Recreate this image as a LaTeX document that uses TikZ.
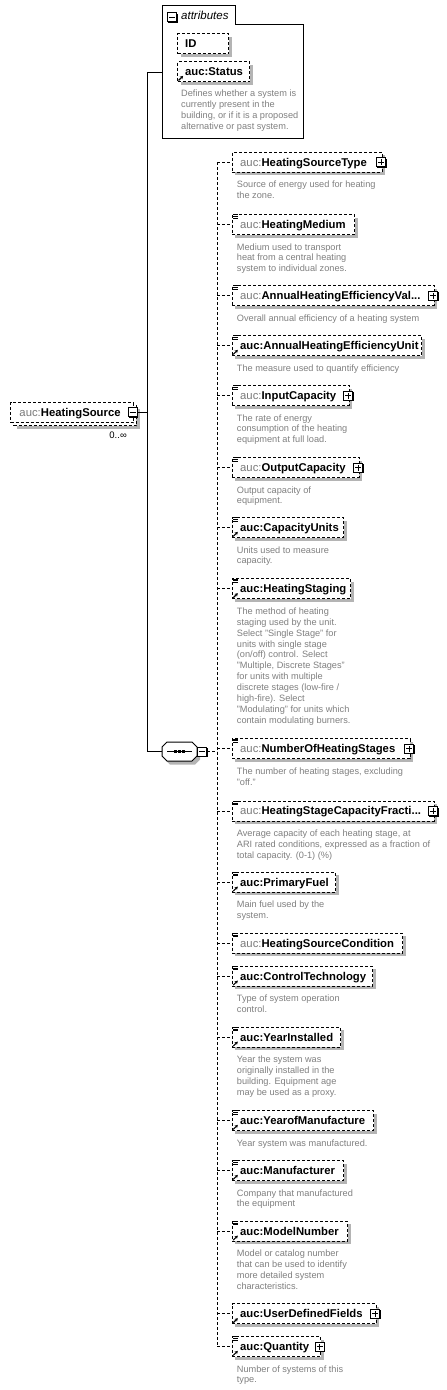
\documentclass[tikz,border=0pt]{standalone}
\usepackage{fontspec}
\setmainfont{Liberation Sans}
\usetikzlibrary{calc,arrows.meta}
\definecolor{pregray}{HTML}{7A7A7A}
\definecolor{descgray}{HTML}{808080}
\definecolor{shadowgray}{HTML}{B4B4B4}
\tikzset{
  dashedbox/.style={draw=black, line width=1pt, dash pattern=on 3pt off 2pt, fill=white},
  elbox/.style={dashedbox, anchor=north west, inner sep=0pt, minimum height=20pt},
  lbl/.style={anchor=base west, inner sep=0pt, font=\fontsize{11.3}{13}\selectfont},
  desc/.style={anchor=base west, inner sep=0pt, text=descgray, font=\fontsize{9.2}{10.9}\selectfont},
  iconbox/.style={draw=black, line width=1pt, fill=white, minimum size=9pt, inner sep=0pt},
  plusbox/.style={iconbox, path picture={\draw[line width=1pt]
     ([xshift=-3pt]path picture bounding box.center) -- ([xshift=3pt]path picture bounding box.center)
     ([yshift=-3pt]path picture bounding box.center) -- ([yshift=3pt]path picture bounding box.center);}},
  minusbox/.style={iconbox, path picture={\draw[line width=1pt]
     ([xshift=-3pt]path picture bounding box.center) -- ([xshift=3pt]path picture bounding box.center);}},
  conn/.style={line width=1pt, dash pattern=on 3pt off 2pt},
  mainline/.style={line width=1pt},
  refarrow/.style={line width=1.1pt, -{Stealth[length=3pt,width=3.5pt]}},
  eqline/.style={line width=0.8pt},
  shd/.style={fill=shadowgray},
}
\newcommand\loc[1]{{\color{pregray}auc:}\textbf{#1}}
\newcommand\rf[1]{\textbf{auc:#1}}
% element box: name, top, right, label
\newcommand\el[4]{\fill[shd] (235.2,#2+3.5) rectangle (#3+3.5,#2+23.5);
  \node[elbox, minimum width={(#3)-231.7}] (#1) at (231.7,#2) {};
  \node[lbl] (#1l) at ($(#1.north west)+(8.3,14.3)$) {#4};}
\newcommand\eqi[1]{\draw[eqline] ($(#1.north west)+(1.6,0.8)$) -- +(4.2,0)
  ($(#1.north west)+(1.6,2.4)$) -- +(4.2,0) ($(#1.north west)+(1.6,4)$) -- +(4.2,0);}
\newcommand\rfa[1]{\draw[refarrow] ($(#1.south west)+(1.6,-1.6)$) -- +(4.5,-4.5);}
\newcommand\pl[1]{\fill ($(#1.east)+(-5.2,-3.5)$) rectangle ($(#1.east)+(4.2,5.5)$);
  \node[plusbox] (#1p) at ($(#1.east)+(-1.5,0)$) {};}
\newcommand\mi[3]{\fill ($(#2,#3)+(-3.7,-3.5)$) rectangle ($(#2,#3)+(5.7,5.5)$);
  \node[minusbox] (#1) at (#2,#3) {};}
\newcommand\ds[2]{\node[desc] (#1d) at ($(#1.south west)+(5,15)$) {\begin{tabular}[t]{@{}l@{}}#2\end{tabular}};}
\begin{document}
\begin{tikzpicture}[x=1pt,y=-1pt]
\fill[white] (0,0) rectangle (447,1390);
\useasboundingbox (0,0) rectangle (447,1390);

% ---------- coordinates for connectors
\coordinate (attrW) at (162,72);
\coordinate (mtop) at (147,72);
\coordinate (mbot) at (147,751.5);
\coordinate (seqW) at (162,751.5);
\coordinate (vx) at (217,0);

% ---------- attributes box
\draw[mainline, fill=white] (162,138) -- (162,5) -- (235,5) -- (235,24) -- (303,24) -- (303,138) -- cycle;
\mi{am}{172}{17}
\node[anchor=base west, inner sep=0pt, font=\fontsize{11.5}{13}\selectfont\itshape] (atl) at (181,19.5) {attributes};
\fill[shd] (180.5,36.5) rectangle (231.5,56.5);
\node[elbox, minimum width=51] (id) at (177,33) {};
\node[lbl] (idl) at ($(id.north west)+(8,14.3)$) {\textbf{ID}};
\fill[shd] (180.5,64.5) rectangle (252.5,84.5);
\node[elbox, minimum width=72] (st) at (177,61) {};
\rfa{st}
\node[lbl] (stl) at ($(st.north west)+(8,14.3)$) {\rf{Status}};
\node[desc] (std) at (181,96.5) {\begin{tabular}[t]{@{}l@{}}Defines whether a system is\\currently present in the\\building, or if it is a proposed\\alternative or past system.\end{tabular}};

% ---------- HeatingSource
\fill[shd] (17,409) rectangle (139.5,428.5);
\node[elbox, minimum width=122.7] (hsb) at (13,405.3) {};
\node[elbox, minimum width=122.7] (hs) at (10,402.3) {};
\node[lbl] (hsl) at (19.3,416) {\loc{HeatingSource}};
\mi{hsm}{132.5}{412}
\node[anchor=base east, inner sep=0pt, font=\fontsize{9.5}{11}\selectfont] (hsocc) at (127,438.3) {0..∞};

% ---------- main connector
\draw[mainline] (attrW) -- (mtop) -- (mbot) -- (seqW);
\draw[mainline] (hsm.east) -- (hsm.east -| mtop);

% ---------- sequence compositor
\fill[shd, shift={(3,3.5)}] (167,742) -- (192,742) -- (197,747) -- (197,756) -- (192,761) -- (167,761) -- (162,756) -- (162,747) -- cycle;
\draw[mainline, fill=white] (167,742) -- (192,742) -- (197,747) -- (197,756) -- (192,761) -- (167,761) -- (162,756) -- (162,747) -- cycle;
\draw[mainline] (167,751.5) -- (192,751.5);
\fill (174.2,750.2) rectangle +(2.6,2.6);
\fill (178.2,750.2) rectangle +(2.6,2.6);
\fill (182.2,750.2) rectangle +(2.6,2.6);
\mi{sm}{202}{751.5}

% ---------- children
\el{c1}{151.7}{381.5}{\loc{HeatingSourceType}} \pl{c1}
\ds{c1}{Source of energy used for heating\\the zone.}
\el{c2}{214}{354}{\loc{HeatingMedium}} \eqi{c2}
\ds{c2}{Medium used to transport\\heat from a central heating\\system to individual zones.}
\el{c3}{285}{433.5}{\loc{AnnualHeatingEfficiencyVal...}} \eqi{c3} \pl{c3}
\ds{c3}{Overall annual efficiency of a heating system}
\el{c4}{335}{421}{\rf{AnnualHeatingEfficiencyUnit}} \eqi{c4} \rfa{c4}
\ds{c4}{The measure used to quantify efficiency}
\el{c5}{385}{348.5}{\loc{InputCapacity}} \eqi{c5} \pl{c5}
\ds{c5}{The rate of energy\\consumption of the heating\\equipment at full load.}
\el{c6}{457}{358.5}{\loc{OutputCapacity}} \eqi{c6} \pl{c6}
\ds{c6}{Output capacity of\\equipment.}
\el{c7}{517}{343}{\rf{CapacityUnits}} \eqi{c7} \rfa{c7}
\ds{c7}{Units used to measure\\capacity.}
\el{c8}{578.3}{350}{\rf{HeatingStaging}} \eqi{c8} \rfa{c8}
\ds{c8}{The method of heating\\staging used by the unit.\\Select "Single Stage" for\\units with single stage\\(on/off) control. Select\\"Multiple, Discrete Stages"\\for units with multiple\\discrete stages (low-fire /\\high-fire). Select\\"Modulating" for units which\\contain modulating burners.}
\el{c9}{738.3}{409.5}{\loc{NumberOfHeatingStages}} \eqi{c9} \pl{c9}
\ds{c9}{The number of heating stages, excluding\\"off."}
\el{c10}{800.5}{433.5}{\loc{HeatingStageCapacityFracti...}} \eqi{c10} \pl{c10}
\ds{c10}{Average capacity of each heating stage, at\\ARI rated conditions, expressed as a fraction of\\total capacity. (0-1) (\%)}
\el{c11}{871.7}{335}{\rf{PrimaryFuel}} \eqi{c11} \rfa{c11}
\ds{c11}{Main fuel used by the\\system.}
\el{c12}{932.7}{402}{\loc{HeatingSourceCondition}} \eqi{c12}
\el{c13}{965.7}{372}{\rf{ControlTechnology}} \eqi{c13} \rfa{c13}
\ds{c13}{Type of system operation\\control.}
\el{c14}{1026.7}{340}{\rf{YearInstalled}} \eqi{c14} \rfa{c14}
\ds{c14}{Year the system was\\originally installed in the\\building. Equipment age\\may be used as a proxy.}
\el{c15}{1110}{373}{\rf{YearofManufacture}} \eqi{c15} \rfa{c15}
\ds{c15}{Year system was manufactured.}
\el{c16}{1160}{343}{\rf{Manufacturer}} \eqi{c16} \rfa{c16}
\ds{c16}{Company that manufactured\\the equipment}
\el{c17}{1220.7}{347}{\rf{ModelNumber}} \eqi{c17} \rfa{c17}
\ds{c17}{Model or catalog number\\that can be used to identify\\more detailed system\\characteristics.}
\el{c18}{1303.3}{375.5}{\rf{UserDefinedFields}} \rfa{c18} \pl{c18}
\el{c19}{1336}{320}{\rf{Quantity}} \eqi{c19} \rfa{c19} \pl{c19}
\ds{c19}{Number of systems of this\\type.}

% ---------- dashed child connectors
\draw[conn] (sm.east) -- (sm.east -| vx);
\draw[conn] (c1.west -| vx) -- (c19.west -| vx);
\foreach \c in {c1,c2,c3,c4,c5,c6,c7,c8,c9,c10,c11,c12,c13,c14,c15,c16,c17,c18,c19}{
  \draw[conn] (\c.west -| vx) -- (\c.west);
}
\end{tikzpicture}
\end{document}
